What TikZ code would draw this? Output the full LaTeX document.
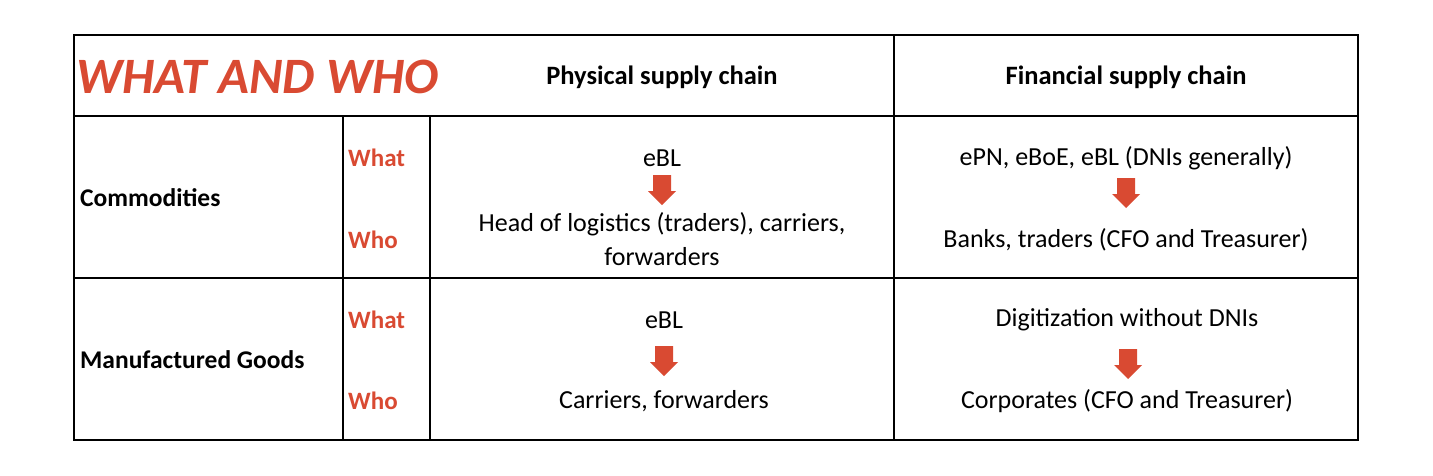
\documentclass[tikz,border=0pt]{standalone}
\usepackage{fontspec}
\setmainfont{Carlito}
\definecolor{hred}{HTML}{D94A32}
\tikzset{
  txt/.style={inner sep=0pt, font=\fontsize{26}{30}\selectfont},
  hdr/.style={txt, font=\fontsize{26.5}{30}\selectfont\bfseries},
  lbl/.style={txt, anchor=west, font=\fontsize{25}{30}\selectfont\bfseries, text=hred},
  rowh/.style={txt, anchor=west, font=\fontsize{25.5}{30}\selectfont\bfseries},
  grid/.style={line width=1.5pt, black},
  darr/.style={fill=hred, draw=none}
}
\newcommand{\downarr}[3]{% name, x, ytop
  \fill[darr] (#2-9,#3) -- (#2+9,#3) -- (#2+9,#3+16) -- (#2+14,#3+16) -- (#2,#3+30) -- (#2-14,#3+16) -- (#2-9,#3+16) -- cycle;
  \coordinate (#1) at (#2,#3+15);
}
\begin{document}
\begin{tikzpicture}[x=1pt,y=-1pt]
\useasboundingbox (0,0) rectangle (1433,475);
\draw[grid] (74,35) rectangle (1358,440);
\draw[grid] (74,116) -- (1358,116);
\draw[grid] (74,278) -- (1358,278);
\draw[grid] (894,35) -- (894,440);
\draw[grid] (343,116) -- (343,440);
\draw[grid] (430,116) -- (430,440);
\node[txt, anchor=west, text=hred, font=\fontsize{51}{55}\selectfont\bfseries\itshape] (title) at (76,77) {WHAT AND WHO};
\node[hdr] (h1) at (662,77) {Physical supply chain};
\node[hdr] (h2) at (1126,77) {Financial supply chain};
\node[rowh] (r1) at (80,198) {Commodities};
\node[rowh] (r2) at (80,360) {Manufactured Goods};
\node[lbl] (w1) at (348,158) {What};
\node[lbl] (o1) at (348,240) {Who};
\node[lbl] (w2) at (348,320) {What};
\node[lbl] (o2) at (348,401) {Who};
\node[txt] (p1a) at (662,158) {eBL};
\node[txt, align=center, font=\fontsize{26}{34}\selectfont] (p1b) at (662,239) {Head of logistics (traders), carriers,\\forwarders};
\node[txt] (f1a) at (1126,158) {ePN, eBoE, eBL (DNIs generally)};
\node[txt] (f1b) at (1126,240) {Banks, traders (CFO and Treasurer)};
\node[txt] (p2a) at (664,320) {eBL};
\node[txt] (p2b) at (664,401) {Carriers, forwarders};
\node[txt] (f2a) at (1127,320) {Digitization without DNIs};
\node[txt] (f2b) at (1127,401) {Corporates (CFO and Treasurer)};
\downarr{a1}{662}{175}
\downarr{a2}{1126}{178}
\downarr{a3}{664}{346}
\downarr{a4}{1128}{349}
\end{tikzpicture}
\end{document}
